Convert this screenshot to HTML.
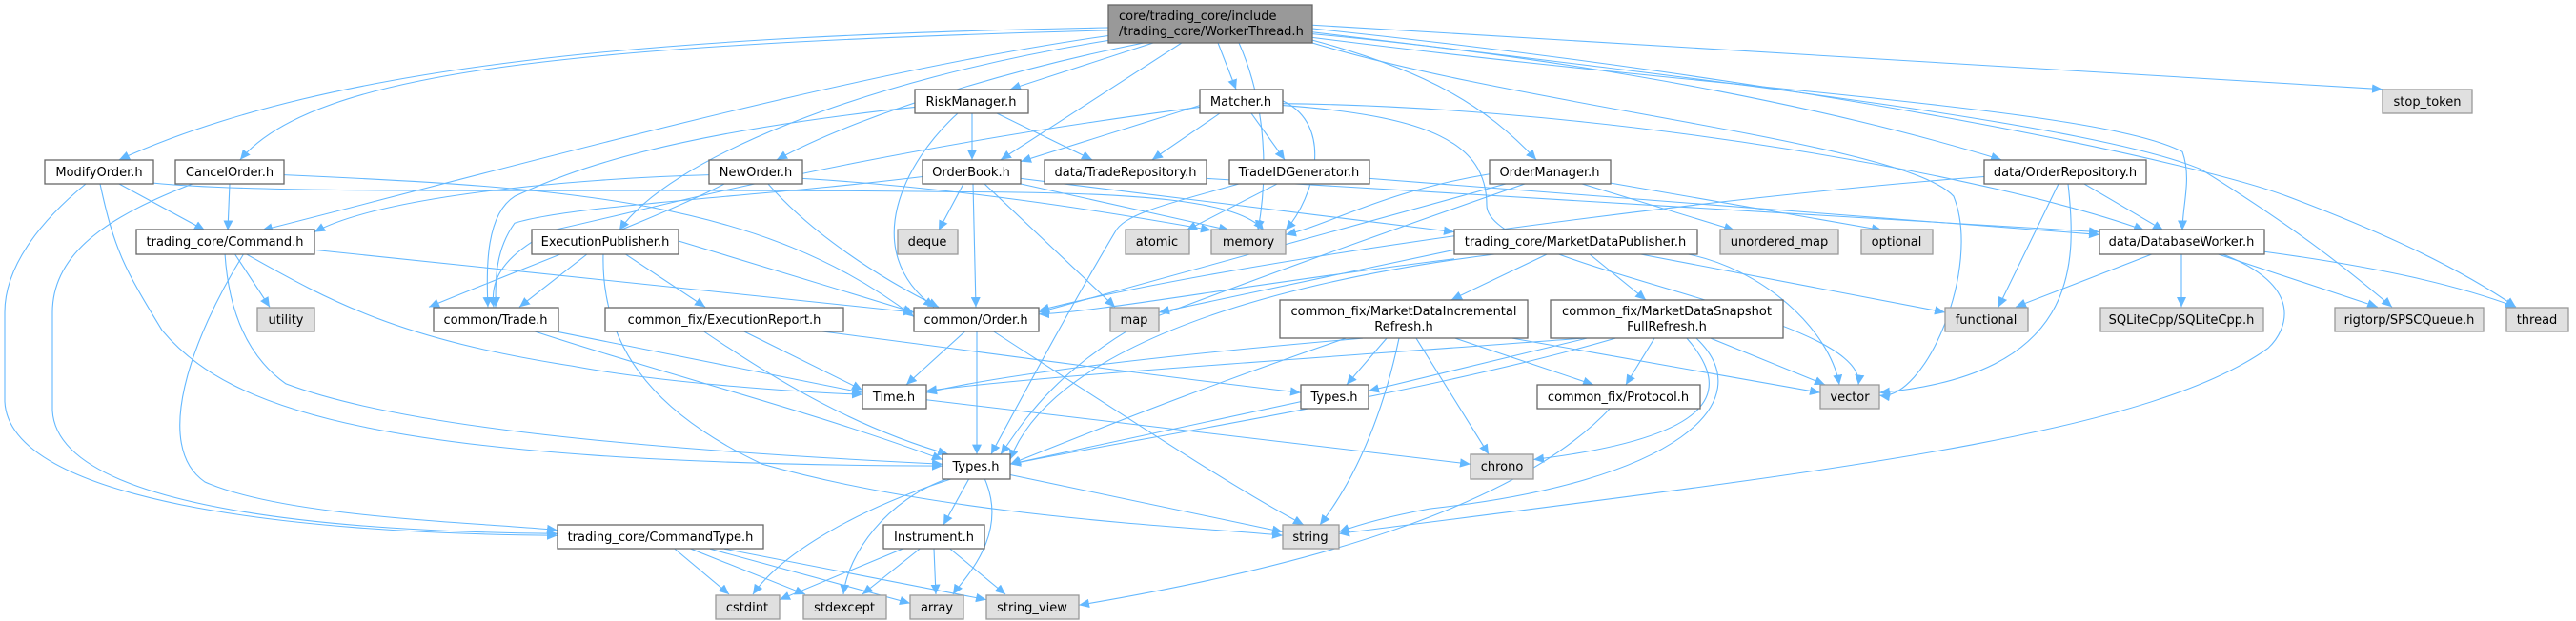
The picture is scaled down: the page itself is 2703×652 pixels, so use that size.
<!DOCTYPE html>
<html><head><meta charset="utf-8"><style>
html,body{margin:0;padding:0;background:#fff;overflow:hidden;}
svg{display:block;}
text{font-family:"DejaVu Sans","Liberation Sans",sans-serif;font-size:13px;fill:#000;}
.n{fill:#fff;stroke:#666;stroke-width:1.3;}
.x{fill:#e0e0e0;stroke:#999;stroke-width:1.3;}
.r{fill:#999;stroke:#666;stroke-width:1.3;}
.e{fill:none;stroke:#63b8ff;stroke-width:1.1;marker-end:url(#a);}
</style></head><body>
<svg width="2703" height="652" viewBox="0 0 2703 652" xmlns="http://www.w3.org/2000/svg">
<defs><marker id="a" markerUnits="userSpaceOnUse" markerWidth="12" markerHeight="10" refX="11" refY="5" orient="auto"><path d="M0,0 L11,5 L0,10 z" fill="#63b8ff"/></marker></defs>
<g transform="scale(1,0.937)">
<path class="e" d="M1163,31 C700,40 350,70 125,179"/>
<path class="e" d="M1163,34 C600,50 330,80 252,179"/>
<path class="e" d="M1163,40 C900,80 600,170 275,258"/>
<path class="e" d="M1165,45 C900,90 700,180 650,258"/>
<path class="e" d="M1200,48 C1050,80 900,130 815,179"/>
<path class="e" d="M1210,48 L1060,100"/>
<path class="e" d="M1240,48 L1050,179"/>
<path class="e" d="M1278,48 L1297,100"/>
<path class="e" d="M1300,48 C1330,120 1330,200 1320,258"/>
<path class="e" d="M1377,45 C1500,80 1560,120 1612,179"/>
<path class="e" d="M1377,38 C1700,70 1950,130 2100,179"/>
<path class="e" d="M1377,28 L2500,100"/>
<path class="e" d="M1377,42 C1800,100 2200,120 2290,170 C2300,200 2290,230 2290,258"/>
<path class="e" d="M1377,36 C1800,90 2200,140 2310,190 C2400,250 2450,290 2510,344"/>
<path class="e" d="M1377,32 C1900,90 2300,180 2400,220 C2500,260 2580,300 2640,344"/>
<path class="e" d="M1377,48 C1600,120 2000,160 2050,220 C2080,300 2020,450 1972,443"/>
<path class="e" d="M125,206 L215,258"/>
<path class="e" d="M90,206 C40,250 5,300 5,350 L5,450 C10,560 300,598 585,600"/>
<path class="e" d="M105,206 C120,280 130,300 170,370 C240,460 400,520 989,522"/>
<path class="e" d="M161,205 C300,220 700,210 1000,215 C1200,215 1300,225 1326,258"/>
<path class="e" d="M241,206 L239,258"/>
<path class="e" d="M202,206 C120,240 55,280 55,350 L55,460 C60,560 300,595 585,598"/>
<path class="e" d="M298,196 C600,210 800,225 959,355"/>
<path class="e" d="M246,284 L283,344"/>
<path class="e" d="M330,280 L959,350"/>
<path class="e" d="M256,284 C200,380 160,500 215,540 C300,580 500,585 585,594"/>
<path class="e" d="M236,284 C240,350 260,400 300,430 C400,470 600,500 989,520"/>
<path class="e" d="M257,284 C350,340 420,380 600,410 C700,430 850,440 905,442"/>
<path class="e" d="M617,284 L545,344"/>
<path class="e" d="M655,284 L740,344"/>
<path class="e" d="M712,270 L959,350"/>
<path class="e" d="M633,284 C630,400 700,470 800,520 C1000,580 1250,590 1346,600"/>
<path class="e" d="M586,372 L905,440"/>
<path class="e" d="M560,371 C700,420 850,460 989,515"/>
<path class="e" d="M780,371 L905,437"/>
<path class="e" d="M738,371 C820,430 900,480 995,509"/>
<path class="e" d="M860,371 C1000,390 1200,420 1365,440"/>
<path class="e" d="M806,206 C850,260 920,310 985,344"/>
<path class="e" d="M744,196 C600,200 400,220 330,260"/>
<path class="e" d="M842,200 C1000,210 1150,235 1271,258"/>
<path class="e" d="M760,206 C700,240 550,300 450,344"/>
<path class="e" d="M1020,127 L1020,179"/>
<path class="e" d="M1046,127 L1146,179"/>
<path class="e" d="M1005,127 C950,180 900,280 980,344"/>
<path class="e" d="M960,120 C700,150 600,190 540,220 C510,240 510,300 512,344"/>
<path class="e" d="M1011,206 L985,258"/>
<path class="e" d="M1021,206 L1024,344"/>
<path class="e" d="M1033,206 L1170,344"/>
<path class="e" d="M1071,206 L1290,258"/>
<path class="e" d="M1071,200 L1526,260"/>
<path class="e" d="M968,198 C800,220 600,230 540,250 C520,280 520,310 520,344"/>
<path class="e" d="M1259,118 L1071,181"/>
<path class="e" d="M1280,127 L1209,179"/>
<path class="e" d="M1313,127 L1348,179"/>
<path class="e" d="M1346,113 C1400,140 1380,220 1349,258"/>
<path class="e" d="M1346,118 C1500,130 1560,160 1560,230 C1560,300 1960,350 1950,431"/>
<path class="e" d="M1346,116 C1700,120 2100,200 2250,258"/>
<path class="e" d="M1259,120 C900,170 700,230 580,258 C520,290 515,320 518,344"/>
<path class="e" d="M1340,206 L1245,258"/>
<path class="e" d="M1300,206 C1220,230 1180,240 1170,260 C1120,350 1080,430 1040,509"/>
<path class="e" d="M1437,200 L2203,263"/>
<path class="e" d="M1266,200 L2203,260"/>
<path class="e" d="M1660,206 L1820,258"/>
<path class="e" d="M1690,205 L1975,258"/>
<path class="e" d="M1580,206 L1090,350"/>
<path class="e" d="M1563,195 C1450,215 1400,250 1349,263"/>
<path class="e" d="M1600,206 C1400,280 1300,320 1200,360 C1100,420 1070,480 1050,509"/>
<path class="e" d="M2160,206 L2097,344"/>
<path class="e" d="M2170,206 C2180,300 2180,420 1972,440"/>
<path class="e" d="M2187,206 L2270,258"/>
<path class="e" d="M2082,198 C1800,220 1300,290 1090,348"/>
<path class="e" d="M1625,284 L1523,336"/>
<path class="e" d="M1667,284 L1727,336"/>
<path class="e" d="M1767,284 C1850,300 1920,370 1930,431"/>
<path class="e" d="M1717,284 L2041,350"/>
<path class="e" d="M1526,280 L1216,350"/>
<path class="e" d="M1575,284 C1300,320 1100,400 1060,515"/>
<path class="e" d="M1526,290 C1300,320 1150,350 1090,352"/>
<path class="e" d="M1455,379 L1413,431"/>
<path class="e" d="M1486,379 L1562,509"/>
<path class="e" d="M1468,379 C1450,470 1420,540 1385,588"/>
<path class="e" d="M1527,379 L1672,431"/>
<path class="e" d="M1430,379 C1200,400 1050,420 972,440"/>
<path class="e" d="M1412,379 C1300,420 1200,460 1060,520"/>
<path class="e" d="M1587,379 L1910,440"/>
<path class="e" d="M1736,379 L1706,431"/>
<path class="e" d="M1795,379 L1915,431"/>
<path class="e" d="M1770,379 C1820,440 1800,490 1609,515"/>
<path class="e" d="M1780,379 C1850,450 1760,540 1500,570 C1450,580 1420,590 1405,596"/>
<path class="e" d="M1660,379 C1400,400 1100,420 972,438"/>
<path class="e" d="M1695,379 C1500,440 1200,490 1060,520"/>
<path class="e" d="M1665,379 L1436,438"/>
<path class="e" d="M1013,371 L951,431"/>
<path class="e" d="M1025,371 L1025,509"/>
<path class="e" d="M1042,371 C1200,480 1300,550 1368,588"/>
<path class="e" d="M972,448 L1543,520"/>
<path class="e" d="M1365,450 L1060,520"/>
<path class="e" d="M1690,457 C1600,560 1400,630 1132,678"/>
<path class="e" d="M1060,532 L1346,596"/>
<path class="e" d="M1017,536 L990,588"/>
<path class="e" d="M1000,536 C900,570 820,620 790,666"/>
<path class="e" d="M995,536 C930,560 890,620 885,666"/>
<path class="e" d="M1033,536 C1060,600 1010,650 1000,666"/>
<path class="e" d="M947,615 L818,672"/>
<path class="e" d="M965,615 L905,666"/>
<path class="e" d="M980,615 L982,666"/>
<path class="e" d="M997,615 L1055,666"/>
<path class="e" d="M708,615 L765,666"/>
<path class="e" d="M725,615 L845,666"/>
<path class="e" d="M745,615 L955,676"/>
<path class="e" d="M760,615 L1035,672"/>
<path class="e" d="M2260,284 L2115,344"/>
<path class="e" d="M2289,284 L2289,344"/>
<path class="e" d="M2325,284 L2495,344"/>
<path class="e" d="M2376,282 C2500,300 2580,320 2640,344"/>
<path class="e" d="M2330,284 C2420,320 2400,370 2380,390 C2250,490 1900,530 1405,598"/>
</g>
<g>
<rect class="r" x="1163" y="5" width="214" height="40"/>
<text x="1174" y="21">core/trading_core/include</text>
<text x="1174" y="37">/trading_core/WorkerThread.h</text>

<rect class="n" x="47" y="168" width="114" height="25"/><text x="104" y="185" text-anchor="middle">ModifyOrder.h</text>
<rect class="n" x="184" y="168" width="114" height="25"/><text x="241" y="185" text-anchor="middle">CancelOrder.h</text>
<rect class="n" x="744" y="168" width="98" height="25"/><text x="793" y="185" text-anchor="middle">NewOrder.h</text>
<rect class="n" x="960" y="94" width="119" height="25"/><text x="1019" y="111" text-anchor="middle">RiskManager.h</text>
<rect class="n" x="1259" y="94" width="87" height="25"/><text x="1302" y="111" text-anchor="middle">Matcher.h</text>
<rect class="x" x="2500" y="94" width="94" height="25"/><text x="2547" y="111" text-anchor="middle">stop_token</text>
<rect class="n" x="968" y="168" width="103" height="25"/><text x="1019" y="185" text-anchor="middle">OrderBook.h</text>
<rect class="n" x="1096" y="168" width="170" height="25"/><text x="1181" y="185" text-anchor="middle">data/TradeRepository.h</text>
<rect class="n" x="1290" y="168" width="147" height="25"/><text x="1363" y="185" text-anchor="middle">TradeIDGenerator.h</text>
<rect class="n" x="1563" y="168" width="127" height="25"/><text x="1626" y="185" text-anchor="middle">OrderManager.h</text>
<rect class="n" x="2082" y="168" width="170" height="25"/><text x="2167" y="185" text-anchor="middle">data/OrderRepository.h</text>

<rect class="n" x="143" y="241" width="187" height="26"/><text x="236" y="258" text-anchor="middle">trading_core/Command.h</text>
<rect class="n" x="558" y="241" width="154" height="26"/><text x="635" y="258" text-anchor="middle">ExecutionPublisher.h</text>
<rect class="x" x="942" y="241" width="63" height="26"/><text x="973" y="258" text-anchor="middle">deque</text>
<rect class="x" x="1181" y="241" width="67" height="26"/><text x="1214" y="258" text-anchor="middle">atomic</text>
<rect class="x" x="1271" y="241" width="78" height="26"/><text x="1310" y="258" text-anchor="middle">memory</text>
<rect class="n" x="1526" y="241" width="255" height="26"/><text x="1653" y="258" text-anchor="middle">trading_core/MarketDataPublisher.h</text>
<rect class="x" x="1805" y="241" width="124" height="26"/><text x="1867" y="258" text-anchor="middle">unordered_map</text>
<rect class="x" x="1953" y="241" width="75" height="26"/><text x="1990" y="258" text-anchor="middle">optional</text>
<rect class="n" x="2203" y="241" width="173" height="26"/><text x="2289" y="258" text-anchor="middle">data/DatabaseWorker.h</text>

<rect class="x" x="270" y="323" width="60" height="25"/><text x="300" y="340" text-anchor="middle">utility</text>
<rect class="n" x="455" y="323" width="131" height="25"/><text x="520" y="340" text-anchor="middle">common/Trade.h</text>
<rect class="n" x="635" y="323" width="250" height="25"/><text x="760" y="340" text-anchor="middle">common_fix/ExecutionReport.h</text>
<rect class="n" x="959" y="323" width="131" height="25"/><text x="1024" y="340" text-anchor="middle">common/Order.h</text>
<rect class="x" x="1165" y="323" width="51" height="25"/><text x="1190" y="340" text-anchor="middle">map</text>
<rect class="n" x="1343" y="315" width="260" height="40"/><text x="1473" y="331" text-anchor="middle">common_fix/MarketDataIncremental</text><text x="1473" y="347" text-anchor="middle">Refresh.h</text>
<rect class="n" x="1627" y="315" width="244" height="40"/><text x="1749" y="331" text-anchor="middle">common_fix/MarketDataSnapshot</text><text x="1749" y="347" text-anchor="middle">FullRefresh.h</text>
<rect class="x" x="2041" y="323" width="87" height="25"/><text x="2084" y="340" text-anchor="middle">functional</text>
<rect class="x" x="2204" y="323" width="171" height="25"/><text x="2289" y="340" text-anchor="middle">SQLiteCpp/SQLiteCpp.h</text>
<rect class="x" x="2450" y="323" width="156" height="25"/><text x="2528" y="340" text-anchor="middle">rigtorp/SPSCQueue.h</text>
<rect class="x" x="2630" y="323" width="65" height="25"/><text x="2662" y="340" text-anchor="middle">thread</text>

<rect class="n" x="905" y="404" width="67" height="25"/><text x="938" y="421" text-anchor="middle">Time.h</text>
<rect class="n" x="1365" y="404" width="71" height="25"/><text x="1400" y="421" text-anchor="middle">Types.h</text>
<rect class="n" x="1613" y="404" width="171" height="25"/><text x="1698" y="421" text-anchor="middle">common_fix/Protocol.h</text>
<rect class="x" x="1910" y="404" width="62" height="25"/><text x="1941" y="421" text-anchor="middle">vector</text>

<rect class="n" x="989" y="477" width="71" height="26"/><text x="1024" y="494" text-anchor="middle">Types.h</text>
<rect class="x" x="1543" y="477" width="66" height="26"/><text x="1576" y="494" text-anchor="middle">chrono</text>

<rect class="n" x="585" y="551" width="216" height="25"/><text x="693" y="568" text-anchor="middle">trading_core/CommandType.h</text>
<rect class="n" x="927" y="551" width="106" height="25"/><text x="980" y="568" text-anchor="middle">Instrument.h</text>
<rect class="x" x="1346" y="551" width="59" height="25"/><text x="1375" y="568" text-anchor="middle">string</text>

<rect class="x" x="751" y="625" width="67" height="25"/><text x="784" y="642" text-anchor="middle">cstdint</text>
<rect class="x" x="843" y="625" width="87" height="25"/><text x="886" y="642" text-anchor="middle">stdexcept</text>
<rect class="x" x="955" y="625" width="56" height="25"/><text x="983" y="642" text-anchor="middle">array</text>
<rect class="x" x="1035" y="625" width="97" height="25"/><text x="1083" y="642" text-anchor="middle">string_view</text>
</g>
</svg>
</body></html>
